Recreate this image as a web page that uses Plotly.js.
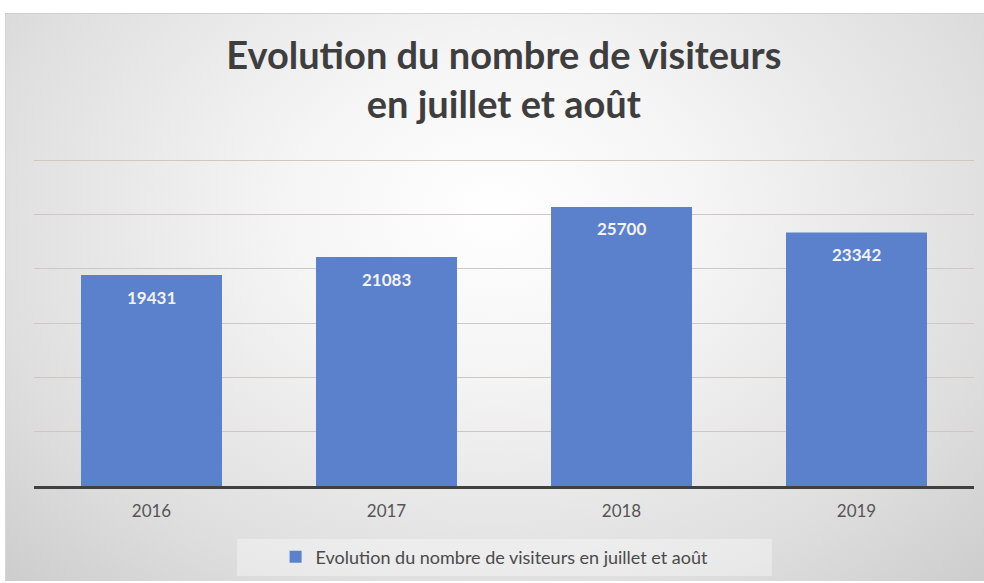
<!DOCTYPE html>
<html>
<head>
<meta charset="utf-8">
<script src="https://cdn.plot.ly/plotly-3.0.1.min.js"></script>
<style>
  html, body { margin: 0; padding: 0; background: #ffffff; }
  #bg { position: absolute; left: 5px; top: 13px; width: 979px; height: 568px;
        background: radial-gradient(ellipse at 50% 35%, #ffffff 0%, #f5f5f5 30%, #dedede 75%, #cdcdcd 100%);
        border-top: 1px solid #d0d0d0; border-left: 1px solid #d6d6d6; box-sizing: border-box; }
  #chart { position: absolute; left: 0; top: 0; width: 984px; height: 583px; }
</style>
</head>
<body>
<div id="bg"></div>
<div id="chart"></div>
<script>
const years = ['2016', '2017', '2018', '2019'];
const visitors = [19431, 21083, 25700, 23342];
const seriesName = 'Evolution du nombre de visiteurs en juillet et août';
const titleText = 'Evolution du nombre de visiteurs<br>en juillet et août';

const FONT = 'Lato, "Open Sans", sans-serif';

const trace = {
  type: 'bar',
  x: years,
  y: visitors,
  name: seriesName,
  marker: { color: '#5b80cc' },
  width: 0.6,
  showlegend: true,
  hoverinfo: 'x+y'
};

// value labels placed on each bar through the category axis (index of each year)
const labelAnnotations = years.map((yr, i) => ({
  x: i,
  y: visitors[i],
  xref: 'x',
  yref: 'y',
  text: String(visitors[i]),
  showarrow: false,
  yanchor: 'middle',
  xanchor: 'center',
  yshift: -22,
  font: { family: FONT, size: 17, color: '#f2f2f2', weight: 'bold' }
}));

const layout = {
  width: 984,
  height: 583,
  paper_bgcolor: 'rgba(0,0,0,0)',
  plot_bgcolor: 'rgba(0,0,0,0)',
  margin: { l: 34, r: 10, t: 157, b: 97 },
  title: {
    text: titleText,
    font: { family: FONT, size: 38, color: '#3e3e3e', weight: 'bold' },
    x: 0.512,
    xanchor: 'center',
    yref: 'container',
    y: 1 - 69 / 583,
    yanchor: 'top'
  },
  xaxis: {
    type: 'category',
    categoryorder: 'array',
    categoryarray: years,
    range: [-0.5, years.length - 0.5],
    showgrid: false,
    showline: true,
    linecolor: '#404040',
    linewidth: 3,
    ticks: '',
    tickfont: { family: FONT, size: 17, color: '#555555' },
    ticklabelstandoff: 8
  },
  yaxis: {
    range: [0, 30300],
    dtick: 5000,
    tick0: 0,
    showgrid: true,
    gridcolor: '#cdc8c2',
    gridwidth: 1,
    showticklabels: false,
    zeroline: false,
    showline: false,
    ticks: ''
  },
  shapes: [{
    type: 'rect',
    xref: 'paper', yref: 'paper',
    x0: 0.216, x1: 0.785, y0: -0.1611, y1: -0.2736,
    fillcolor: 'rgba(255,255,255,0.35)',
    line: { width: 0 },
    layer: 'below'
  }],
  annotations: labelAnnotations,
  showlegend: true,
  legend: {
    orientation: 'h',
    x: 0.49,
    xanchor: 'center',
    xref: 'paper',
    yref: 'container',
    y: 1 - 557 / 583,
    yanchor: 'middle',
    bgcolor: 'rgba(0,0,0,0)',
    font: { family: FONT, size: 18, color: '#4a4a4a' },
    itemwidth: 30
  }
};

Plotly.newPlot('chart', [trace], layout, { displayModeBar: false, staticPlot: true });
</script>
</body>
</html>
